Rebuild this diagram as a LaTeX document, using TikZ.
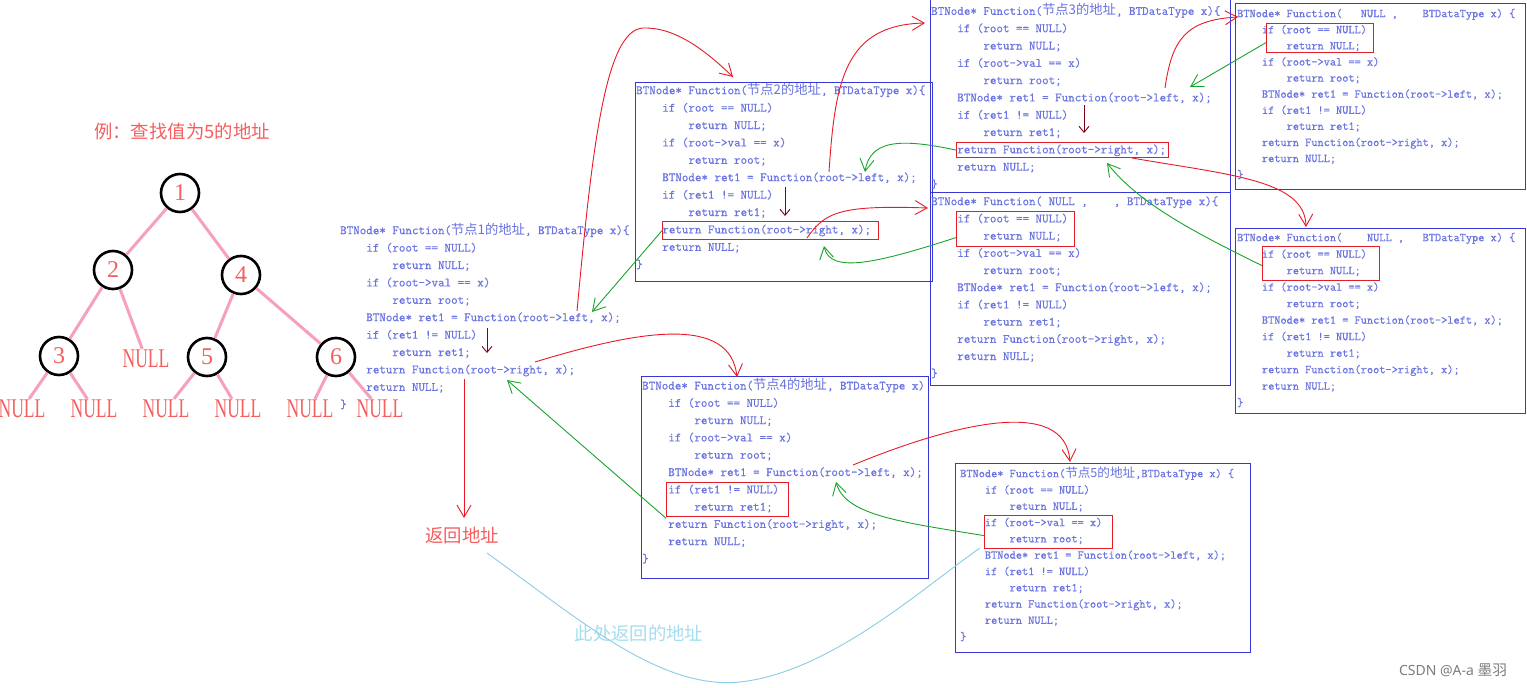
\documentclass[tikz,border=0pt]{standalone}
\usepackage{fontspec}
\setmainfont{Liberation Serif}
\newfontfamily\cjk{Noto Sans CJK SC}[Scale=1.05]
\newfontfamily\codett{Latin Modern Mono}[FakeBold=0.6, WordSpace={1,0,0}]
\newfontfamily\wmfont{Noto Sans}
\usetikzlibrary{arrows.meta}
\definecolor{codeblue}{RGB}{105,115,225}
\definecolor{boxblue}{RGB}{55,55,215}
\definecolor{hired}{RGB}{228,30,40}
\definecolor{arred}{RGB}{235,25,40}
\definecolor{darkred}{RGB}{125,0,25}
\definecolor{rgreen}{RGB}{25,165,45}
\definecolor{lcyan}{RGB}{135,205,230}
\definecolor{pinkedge}{RGB}{246,160,190}
\definecolor{salmon}{RGB}{245,95,95}
\definecolor{cyantext}{RGB}{165,222,240}
\definecolor{wmgray}{RGB}{125,125,125}
\newcommand\zh[1]{{\cjk #1}}
\newcommand\IN{\hphantom{xxxx}}
\newcommand\INN{\hphantom{xxxxxxxx}}
\newcommand\codebody{%
\IN if (root == NULL)\\
\INN return NULL;\\
\IN if (root->val == x)\\
\INN return root;\\
\IN BTNode* ret1 = Function(root->left, x);\\
\IN if (ret1 != NULL)\\
\INN return ret1;\\
\IN return Function(root->right, x);\\
\IN return NULL;\\
\}}
\tikzset{
  code/.style 2 args={anchor=north west, inner sep=0pt, align=left, text=codeblue,
    font=\codett\fontsize{#1}{#2}\selectfont},
  frame/.style={draw=boxblue, line width=1.3pt, anchor=north west, inner sep=0pt},
  hl/.style={draw=hired, line width=1.2pt, anchor=north west, inner sep=0pt},
  tn/.style={circle, draw=black, line width=2.6pt, minimum size=38pt, inner sep=0pt,
    text=salmon, font=\fontsize{24}{24}\selectfont},
  nul/.style={text=salmon, font=\fontsize{27}{27}\selectfont, xscale=0.65, inner sep=1pt},
  edge/.style={draw=pinkedge, line width=3pt},
  call/.style={draw=arred, line width=0.9pt, -{Straight Barb[length=12pt,width=14pt]}},
  back/.style={draw=rgreen, line width=0.9pt, -{Straight Barb[length=12pt,width=14pt]}},
  nextarrow/.style={draw=darkred, line width=0.9pt, -{Straight Barb[length=6pt,width=10pt]}},
  retline/.style={draw=lcyan, line width=0.9pt},
  label/.style={inner sep=0pt, font=\cjk\fontsize{17.5}{20}\selectfont}
}
\begin{document}
\begin{tikzpicture}[x=1pt,y=-1pt]
\fill[white] (0,0) rectangle (1527,688);
\useasboundingbox (0,0) rectangle (1527,688);

% ---------- title and tree ----------
\node[label, text=salmon] (title) at (182,131) {例：查找值为5的地址};

\node[tn] (n1) at (180,193) {1};
\node[tn] (n2) at (113,270) {2};
\node[tn] (n4) at (241,275) {4};
\node[tn] (n3) at (59,356) {3};
\node[tn] (n5) at (207,357) {5};
\node[tn] (n6) at (336,357) {6};
\node[nul] (na) at (146,359) {NULL};
\node[nul] (nb1) at (22,409) {NULL};
\node[nul] (nb2) at (94,409) {NULL};
\node[nul] (nb3) at (166,409) {NULL};
\node[nul] (nb4) at (238,409) {NULL};
\node[nul] (nb5) at (310,409) {NULL};
\node[nul] (nb6) at (380,409) {NULL};

\draw[edge] (n1) -- (n2);
\draw[edge] (n1) -- (n4);
\draw[edge] (n2) -- (n3);
\draw[edge] (n2) -- (na);
\draw[edge] (n4) -- (n5);
\draw[edge] (n4) -- (n6);
\draw[edge] (n3) -- (nb1);
\draw[edge] (n3) -- (nb2);
\draw[edge] (n5) -- (nb3);
\draw[edge] (n5) -- (nb4);
\draw[edge] (n6) -- (nb5);
\draw[edge] (n6) -- (nb6);

% ---------- frames ----------
\node[frame, minimum width=297pt, minimum height=199pt] (B2) at (635,82) {};
\node[frame, minimum width=300pt, minimum height=194pt] (B3) at (930,-2) {};
\node[frame, minimum width=300pt, minimum height=193pt] (BM) at (930,192) {};
\node[frame, minimum width=290pt, minimum height=186pt] (BT) at (1235,3) {};
\node[frame, minimum width=290pt, minimum height=185pt] (BR) at (1235,228) {};
\node[frame, minimum width=287pt, minimum height=202pt] (B4) at (641,376) {};
\node[frame, minimum width=295pt, minimum height=189pt] (B5) at (955,463) {};

% ---------- code ----------
\node[code={12.67}{17.4}] (F1) at (340,222) {\rule{0pt}{12pt}BTNode* Function(\zh{节点1的地址}, BTDataType x)\{\\ \codebody};
\node[code={12.67}{17.4}] (F2) at (636,82) {\rule{0pt}{12pt}BTNode* Function(\zh{节点2的地址}, BTDataType x)\{\\ \codebody};
\node[code={12.67}{17.3}] (F3) at (931,2.7) {\rule{0pt}{12pt}BTNode* Function(\zh{节点3的地址}, BTDataType x)\{\\ \codebody};
\node[code={12.67}{17.2}] (FM) at (931,193) {\rule{0pt}{12pt}BTNode* Function(\ NULL\ ,\ \ \ \ , BTDataType x)\{\\ \codebody};
\node[code={12.0}{16.1}] (FT) at (1237,5) {\rule{0pt}{12pt}BTNode* Function(\ \ \ NULL ,\ \ \ \ BTDataType x) \{\\ \codebody};
\node[code={12.0}{16.5}] (FR) at (1237,229) {\rule{0pt}{12pt}BTNode* Function(\ \ \ \ NULL ,\ \ \ BTDataType x) \{\\ \codebody};
\node[code={12.67}{17.3}] (F4) at (642,377.3) {\rule{0pt}{12pt}BTNode* Function(\zh{节点4的地址}, BTDataType x)\\ \codebody};
\node[code={12.0}{16.3}] (F5) at (960,465) {\rule{0pt}{12pt}BTNode* Function(\zh{节点5的地址},BTDataType x) \{\\ \codebody};

% ---------- highlights ----------
\node[hl, minimum width=216pt, minimum height=18pt] (h2) at (662,221) {};
\node[hl, minimum width=212pt, minimum height=15pt] (h3) at (956,142) {};
\node[hl, minimum width=107pt, minimum height=29pt] (hT) at (1266,23) {};
\node[hl, minimum width=118pt, minimum height=35pt] (hM) at (956,211) {};
\node[hl, minimum width=117pt, minimum height=34pt] (hR) at (1262,246) {};
\node[hl, minimum width=122pt, minimum height=34pt] (h4) at (666,482) {};
\node[hl, minimum width=128pt, minimum height=33pt] (h5) at (984,515) {};

% ---------- labels ----------
\node[label, text=salmon] (ret) at (462,536) {返回地址};
\node[label, text=cyantext] (here) at (639,633) {此处返回的地址};
\node[inner sep=0pt, text=wmgray, font=\wmfont\fontsize{14}{16}\selectfont] (wm) at (1453,670) {CSDN @A-a \zh{墨羽}};

% ---------- arrow end points ----------
\coordinate (c1l) at (577,311);
\coordinate (c1r) at (535,362);
\coordinate (c1ret) at (464,379);
\coordinate (c1in) at (592,312);
\coordinate (c1rin) at (507,380);
\coordinate (t2) at (733,77);
\coordinate (c2l) at (829,172);
\coordinate (c2r) at (807,238);
\coordinate (c2in) at (865,172);
\coordinate (c2rin) at (824,246);
\coordinate (t3) at (925,23);
\coordinate (tM) at (928,208);
\coordinate (c3l) at (1165,88);
\coordinate (c3r) at (1132,158);
\coordinate (c3in) at (1190,87);
\coordinate (c3rin) at (1107,163);
\coordinate (tT) at (1238,17);
\coordinate (tR) at (1306,227);
\coordinate (t4) at (737,377);
\coordinate (c4l) at (853,465);
\coordinate (c4in) at (836,482);
\coordinate (t5) at (1070,462);
\coordinate (retin) at (464,518);
\coordinate (retout) at (487,553);
\coordinate (low) at (740,682);
\coordinate (h5out) at (980,548);

% ---------- call arrows (red) ----------
\draw[call] (c1l) .. controls (592,150) and (605,30) .. (643,28) .. controls (675,27) and (705,50) .. (t2);
\draw[call] (c2l) .. controls (835,80) and (845,25) .. (t3);
\draw[call] (c2r) .. controls (825,212) and (840,205) .. (tM);
\draw[call] (c3l) .. controls (1172,40) and (1185,20) .. (tT);
\draw[call] (c3r) .. controls (1230,175) and (1305,180) .. (tR);
\draw[call] (c1r) .. controls (640,330) and (730,315) .. (t4);
\draw[call] (c4l) .. controls (950,425) and (1065,395) .. (t5);
\draw[call] (c1ret) -- (retin);

% ---------- next-line arrows (dark red) ----------
\coordinate (d1a) at (487,328); \coordinate (d1b) at (487,353);
\coordinate (d2a) at (785,187); \coordinate (d2b) at (785,216);
\coordinate (d3a) at (1084,105); \coordinate (d3b) at (1084,133);
\draw[nextarrow] (d1a) -- (d1b);
\draw[nextarrow] (d2a) -- (d2b);
\draw[nextarrow] (d3a) -- (d3b);

% ---------- return arrows (green) ----------
\draw[back] (h2.west) -- (c1in);
\draw[back] (h3.west) .. controls (900,138) and (870,140) .. (c2in);
\draw[back] ([yshift=-8.5pt]hM.west) .. controls (880,262) and (830,275) .. (c2rin);
\draw[back] ([yshift=-4.5pt]hT.west) -- (c3in);
\draw[back] ([yshift=-2pt]hR.west) .. controls (1200,235) and (1140,205) .. (c3rin);
\draw[back] ([yshift=-1pt]h4.south west) -- (c1rin);
\draw[back] ([yshift=-3.5pt]h5.west) .. controls (900,522) and (845,515) .. (c4in);

% ---------- returned address (cyan) ----------
\draw[retline] (retout) .. controls (580,620) and (660,690) .. (low) .. controls (830,672) and (920,590) .. (h5out);
\end{tikzpicture}
\end{document}
